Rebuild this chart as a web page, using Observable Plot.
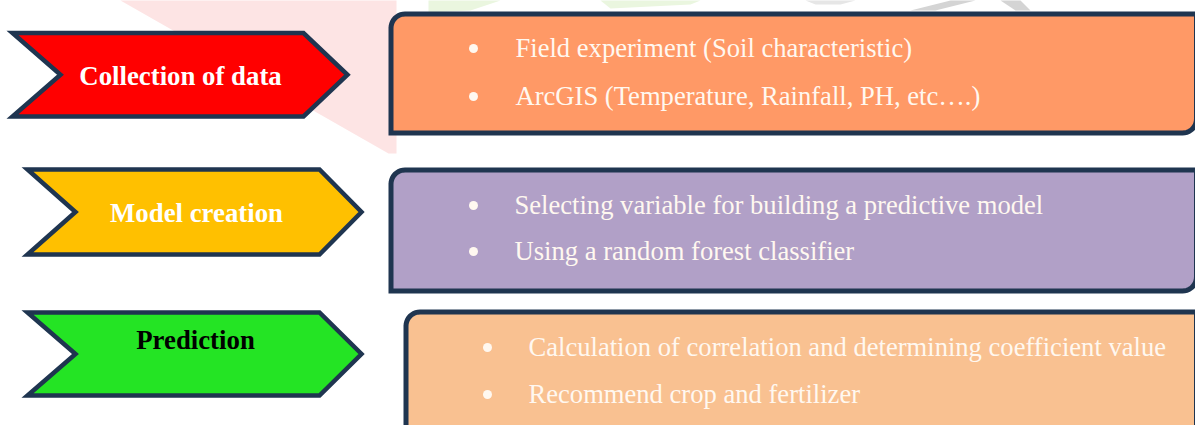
<!DOCTYPE html>
<html>
<head>
<meta charset="utf-8">
<script src="https://cdn.jsdelivr.net/npm/d3@7"></script>
<script src="https://cdn.jsdelivr.net/npm/@observablehq/plot@0.6"></script>
<style>
  html, body { margin: 0; padding: 0; background: #ffffff; overflow: hidden; }
  #chart svg { display: block; }
</style>
</head>
<body>
<div id="chart"></div>
<script>
// ---- content ----
const steps = ["Collection of data", "Model creation", "Prediction"];
const stepFills = ["#ff0000", "#ffc000", "#24e424"];
const stepTextColors = ["#ffffff", "#ffffff", "#000000"];
const boxFills = ["#ff9966", "#b1a0c7", "#f9c191"];
const bulletsCollection = ["Field experiment (Soil characteristic)", "ArcGIS (Temperature, Rainfall, PH, etc….)"];
const bulletsModel = ["Selecting variable for building a predictive model", "Using a random forest classifier"];
const bulletsPrediction = ["Calculation of correlation and determining coefficient value", "Recommend crop and fertilizer"];
const bulletGroups = [bulletsCollection, bulletsModel, bulletsPrediction];

// ---- layout (pixel geometry of the diagram) ----
const W = 1195, H = 425;
const STROKE = "#1f3550";
const arrowGeom = [
  {left: 12, notch: 60, right: 303, tip: 347, top: 32.5, bottom: 116},
  {left: 27, notch: 75, right: 319, tip: 361, top: 169, bottom: 254},
  {left: 27, notch: 75, right: 319, tip: 361, top: 312, bottom: 395}
];
const labelPos = [{x: 180, y: 76}, {x: 196, y: 213}, {x: 195, y: 340}];
const boxGeom = [
  {left: 390.5, top: 13.5, right: 1196, bottom: 132.5},
  {left: 390.5, top: 169.5, right: 1196, bottom: 290.5},
  {left: 405.5, top: 311.5, right: 1196, bottom: 450}
];
const bulletLayout = [
  {dotX: 473, textX: 515, ys: [48, 96]},
  {dotX: 473, textX: 514, ys: [205, 251]},
  {dotX: 487, textX: 528, ys: [347, 394]}
];

function arrowPoints(g) {
  const mid = (g.top + g.bottom) / 2;
  return [
    {x: g.left, y: g.top}, {x: g.right, y: g.top}, {x: g.tip, y: mid},
    {x: g.right, y: g.bottom}, {x: g.left, y: g.bottom}, {x: g.notch, y: mid},
    {x: g.left, y: g.top}, {x: g.right, y: g.top}
  ];
}
function roundDiagRect(g, rad) {
  const pts = [];
  const n = 10;
  for (let i = 0; i <= n; i++) {
    const a = Math.PI + (Math.PI / 2) * i / n;
    pts.push({x: g.left + rad + rad * Math.cos(a), y: g.top + rad + rad * Math.sin(a)});
  }
  pts.push({x: g.right, y: g.top});
  for (let i = 0; i <= n; i++) {
    const a = (Math.PI / 2) * i / n;
    pts.push({x: g.right - rad + rad * Math.cos(a), y: g.bottom - rad + rad * Math.sin(a)});
  }
  pts.push({x: g.left, y: g.bottom});
  pts.push({x: g.left, y: g.top + rad});
  pts.push({x: g.left + 0.01, y: g.top + rad - 1});
  return pts;
}

// faint background watermark pieces
const wmPink = [{x: 120, y: 0}, {x: 396, y: 0}, {x: 396, y: 153}, {x: 388, y: 153}, {x: 120, y: 0}];
const wmGreen1 = [{x: 428, y: 0}, {x: 500, y: 0}, {x: 470, y: 10}, {x: 428, y: 12}, {x: 428, y: 0}];
const wmGreen2 = [{x: 600, y: 0}, {x: 700, y: 0}, {x: 690, y: 4}, {x: 610, y: 8}, {x: 600, y: 0}];
const wmGray1 = [{x: 805, y: 0}, {x: 855, y: 0}, {x: 840, y: 4}, {x: 815, y: 4}, {x: 805, y: 0}];
const wmGray2 = [{x: 910, y: 10}, {x: 950, y: 0}, {x: 975, y: 0}, {x: 935, y: 10}, {x: 910, y: 10}];
const wmGray3 = [{x: 1000, y: 0}, {x: 1020, y: 0}, {x: 1030, y: 10}, {x: 1015, y: 10}, {x: 1000, y: 0}];

const marks = [];
for (const [pts, col] of [[wmPink, "#fde4e4"], [wmGreen1, "#eaf6df"], [wmGreen2, "#eaf6df"], [wmGray1, "#e6e6e6"], [wmGray2, "#d4d4d4"], [wmGray3, "#d4d4d4"]]) {
  marks.push(Plot.line(pts, {x: "x", y: "y", fill: col, stroke: "none", curve: "linear"}));
}

steps.forEach((name, i) => {
  marks.push(Plot.line(roundDiagRect(boxGeom[i], 14), {
    x: "x", y: "y", fill: boxFills[i], stroke: STROKE, strokeWidth: 5,
    strokeLinejoin: "miter", strokeMiterlimit: 10, strokeLinecap: "butt", curve: "linear"
  }));
  marks.push(Plot.line(arrowPoints(arrowGeom[i]), {
    x: "x", y: "y", fill: stepFills[i], stroke: STROKE, strokeWidth: 4.5,
    strokeLinejoin: "miter", strokeMiterlimit: 10, strokeLinecap: "butt", curve: "linear"
  }));
  marks.push(Plot.text([name], {
    x: () => labelPos[i].x, y: () => labelPos[i].y, text: d => d,
    fill: stepTextColors[i], fontFamily: "Liberation Serif", fontSize: 26.8, fontWeight: "bold",
    textAnchor: "middle"
  }));
  const lay = bulletLayout[i];
  const rows = bulletGroups[i].map((t, j) => ({t, y: lay.ys[j]}));
  marks.push(Plot.dot(rows, {x: () => lay.dotX, y: "y", r: 4.5, fill: "#fff8f0", stroke: "none"}));
  marks.push(Plot.text(rows, {
    x: () => lay.textX, y: "y", text: "t", fill: "#fff8f0",
    fontFamily: "Liberation Serif", fontSize: 26.6, textAnchor: "start"
  }));
});

const chart = Plot.plot({
  width: W, height: H, margin: 0,
  x: {domain: [0, W], range: [0, W], axis: null},
  y: {domain: [0, H], range: [0, H], axis: null},
  style: {background: "#ffffff", overflow: "hidden"},
  marks
});
document.getElementById("chart").append(chart);
</script>
</body>
</html>
